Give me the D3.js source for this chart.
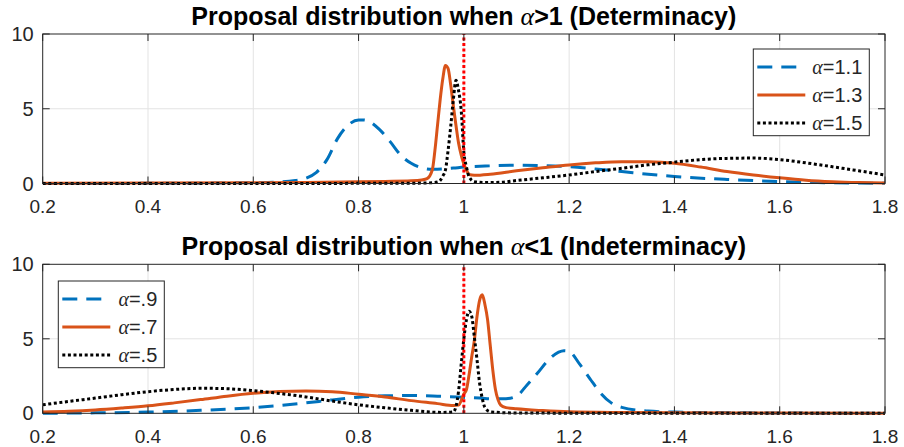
<!DOCTYPE html>
<html lang="en">
<head>
    <meta charset="utf-8" />
    <title>Proposal distribution</title>
    <script src="https://cdnjs.cloudflare.com/ajax/libs/d3/7.4.4/d3.min.js"></script>
    <style>
      body { margin: 0; background: #fff; }
      text { font-family: "Liberation Sans", Arial, Helvetica, sans-serif; }
      .greek { font-family: "Liberation Serif", "Times New Roman", serif; font-style: italic; font-weight: normal; }
    </style>
</head>
<body>
<div id="chart"></div>
<script type="text/javascript">

// ---- data ----
var xTicks = [0.2, 0.4, 0.6, 0.8, 1, 1.2, 1.4, 1.6, 1.8];
var yTicks = [0, 5, 10];

// top panel, alpha > 1
var topBlueX = [0.2, 0.3, 0.4, 0.5, 0.55, 0.6, 0.65, 0.68, 0.7, 0.72, 0.74, 0.76, 0.78, 0.8, 0.81, 0.82, 0.84, 0.86, 0.88, 0.9, 0.92, 0.94, 0.96, 0.98, 1.0, 1.05, 1.1, 1.15, 1.2, 1.25, 1.3, 1.35, 1.4, 1.5, 1.6, 1.7, 1.8];
var topBlueY = [0, 0, 0.01, 0.02, 0.04, 0.06, 0.1, 0.2, 0.35, 0.75, 1.6, 3.0, 3.9, 4.25, 4.25, 4.15, 3.6, 2.8, 1.9, 1.35, 1.05, 0.95, 0.97, 1.03, 1.1, 1.18, 1.22, 1.2, 1.12, 0.97, 0.8, 0.62, 0.47, 0.27, 0.13, 0.05, 0.02];

var topOrangeX = [0.2, 0.4, 0.6, 0.7, 0.8, 0.85, 0.9, 0.92, 0.93, 0.94, 0.945, 0.95, 0.955, 0.96, 0.965, 0.97, 0.975, 0.98, 0.985, 0.99, 0.995, 1.0, 1.005, 1.01, 1.02, 1.05, 1.1, 1.15, 1.2, 1.25, 1.3, 1.35, 1.4, 1.45, 1.5, 1.55, 1.6, 1.65, 1.7, 1.75, 1.8];
var topOrangeY = [0.02, 0.03, 0.05, 0.07, 0.11, 0.14, 0.18, 0.24, 0.32, 0.9, 2.2, 3.9, 5.6, 7.0, 7.9, 7.7, 6.6, 5.2, 3.9, 2.7, 1.9, 1.3, 0.9, 0.6, 0.55, 0.62, 0.85, 1.05, 1.24, 1.38, 1.46, 1.45, 1.35, 1.1, 0.8, 0.57, 0.38, 0.22, 0.12, 0.06, 0.03];

var topBlackX = [0.2, 0.6, 0.8, 0.9, 0.94, 0.95, 0.955, 0.96, 0.965, 0.97, 0.975, 0.98, 0.985, 0.99, 0.995, 1.0, 1.005, 1.01, 1.02, 1.04, 1.07, 1.1, 1.15, 1.2, 1.25, 1.3, 1.35, 1.4, 1.45, 1.5, 1.55, 1.6, 1.65, 1.7, 1.75, 1.8];
var topBlackY = [0, 0, 0.01, 0.02, 0.05, 0.1, 0.2, 0.5, 0.9, 2.2, 3.8, 5.6, 6.9, 6.2, 4.9, 2.1, 1.1, 0.45, 0.12, 0.06, 0.08, 0.2, 0.38, 0.57, 0.8, 1.02, 1.25, 1.43, 1.6, 1.68, 1.7, 1.6, 1.38, 1.12, 0.85, 0.57];

// bottom panel, alpha < 1
var botBlueX = [0.2, 0.3, 0.4, 0.5, 0.6, 0.65, 0.7, 0.75, 0.8, 0.85, 0.9, 0.95, 1.0, 1.03, 1.06, 1.08, 1.1, 1.12, 1.14, 1.16, 1.18, 1.19, 1.2, 1.22, 1.24, 1.26, 1.28, 1.3, 1.35, 1.4, 1.5, 1.6, 1.8];
var botBlueY = [0, 0.03, 0.08, 0.2, 0.38, 0.52, 0.7, 0.9, 1.08, 1.17, 1.2, 1.15, 1.07, 1.02, 0.97, 0.98, 1.15, 1.9, 2.7, 3.55, 4.1, 4.2, 4.15, 3.3, 2.3, 1.35, 0.7, 0.4, 0.15, 0.08, 0.04, 0.02, 0];

var botOrangeX = [0.2, 0.25, 0.3, 0.35, 0.4, 0.45, 0.5, 0.55, 0.6, 0.65, 0.7, 0.75, 0.8, 0.85, 0.9, 0.95, 0.98, 0.99, 1.0, 1.005, 1.01, 1.015, 1.02, 1.025, 1.03, 1.035, 1.04, 1.045, 1.05, 1.055, 1.06, 1.065, 1.07, 1.08, 1.1, 1.15, 1.2, 1.3, 1.4, 1.6, 1.8];
var botOrangeY = [0.08, 0.13, 0.22, 0.35, 0.5, 0.7, 0.92, 1.15, 1.34, 1.46, 1.5, 1.45, 1.28, 1.1, 0.85, 0.65, 0.52, 0.55, 1.3, 1.6, 2.6, 3.8, 4.9, 6.5, 7.6, 7.95, 7.3, 6.3, 4.6, 2.9, 1.6, 0.9, 0.55, 0.38, 0.3, 0.18, 0.1, 0.05, 0.03, 0.02, 0.01];

var botBlackX = [0.2, 0.25, 0.3, 0.35, 0.4, 0.45, 0.5, 0.55, 0.6, 0.65, 0.7, 0.75, 0.8, 0.85, 0.9, 0.93, 0.96, 0.98, 0.985, 0.99, 0.995, 1.0, 1.005, 1.01, 1.015, 1.02, 1.025, 1.03, 1.035, 1.04, 1.05, 1.1, 1.2, 1.8];
var botBlackY = [0.57, 0.8, 1.02, 1.25, 1.45, 1.6, 1.68, 1.65, 1.52, 1.33, 1.1, 0.82, 0.57, 0.37, 0.2, 0.1, 0.06, 0.1, 0.45, 1.5, 3.3, 5.0, 6.3, 6.85, 6.5, 5.1, 3.6, 2.0, 1.0, 0.4, 0.1, 0.02, 0.01, 0];

var topLabels = ["=1.1", "=1.3", "=1.5"];
var botLabels = ["=.9", "=.7", "=.5"];

// ---- drawing ----
var W = 904, H = 447;
var left = 42.7, right = 885;
var axColor = "#262626";

var svg = d3.select("#chart").append("svg")
    .attr("width", W)
    .attr("height", H)
    .style("display", "block");

var x = d3.scaleLinear().domain([0.2, 1.8]).range([left, right]);

var styles = [
    { color: "#0072BD", dash: "15,9" },
    { color: "#D95319", dash: null },
    { color: "#000000", dash: "3,2.6" }
];

function zip(xs, ys) {
    return xs.map(function (v, i) { return [v, ys[i]]; });
}

function panel(top, bottom, titleA, titleB, titleY, series, labels, legend) {
    var y = d3.scaleLinear().domain([0, 10]).range([bottom, top]);
    var g = svg.append("g");

    // grid
    g.append("g").selectAll("line")
        .data(xTicks.slice(1, -1))
        .enter().append("line")
        .attr("x1", function (d) { return x(d); })
        .attr("x2", function (d) { return x(d); })
        .attr("y1", top).attr("y2", bottom)
        .attr("stroke", "#e3e3e3").attr("stroke-width", 1);
    g.append("line")
        .attr("x1", left).attr("x2", right)
        .attr("y1", y(5)).attr("y2", y(5))
        .attr("stroke", "#e3e3e3").attr("stroke-width", 1);

    // curves
    var line = d3.line()
        .x(function (d) { return x(d[0]); })
        .y(function (d) { return y(d[1]); })
        .curve(d3.curveMonotoneX);

    var clipId = "clip" + Math.round(top);
    svg.append("clipPath").attr("id", clipId)
        .append("rect").attr("x", left).attr("y", top - 2)
        .attr("width", right - left).attr("height", bottom - top + 4);

    var curves = g.append("g").attr("clip-path", "url(#" + clipId + ")");
    series.forEach(function (s, i) {
        curves.append("path")
            .attr("d", line(s))
            .attr("fill", "none")
            .attr("stroke", styles[i].color)
            .attr("stroke-width", 3)
            .attr("stroke-dasharray", styles[i].dash)
            .attr("stroke-linejoin", "round");
    });

    // red line at alpha = 1
    curves.append("line")
        .attr("x1", x(1)).attr("x2", x(1))
        .attr("y1", y(0)).attr("y2", y(10))
        .attr("stroke", "#ff0000")
        .attr("stroke-width", 3)
        .attr("stroke-dasharray", "3,2.5");

    // box and ticks
    g.append("rect")
        .attr("x", left).attr("y", top)
        .attr("width", right - left).attr("height", bottom - top)
        .attr("fill", "none").attr("stroke", axColor).attr("stroke-width", 1);

    var tl = 7;
    xTicks.forEach(function (t) {
        g.append("line").attr("x1", x(t)).attr("x2", x(t)).attr("y1", bottom).attr("y2", bottom - tl)
            .attr("stroke", axColor);
        g.append("line").attr("x1", x(t)).attr("x2", x(t)).attr("y1", top).attr("y2", top + tl)
            .attr("stroke", axColor);
        g.append("text")
            .attr("x", x(t)).attr("y", bottom + 29.5)
            .attr("text-anchor", "middle")
            .attr("font-size", "19px")
            .attr("fill", axColor)
            .text(d3.format("")(t));
    });
    yTicks.forEach(function (t) {
        g.append("line").attr("x1", left).attr("x2", left + tl).attr("y1", y(t)).attr("y2", y(t))
            .attr("stroke", axColor);
        g.append("line").attr("x1", right).attr("x2", right - tl).attr("y1", y(t)).attr("y2", y(t))
            .attr("stroke", axColor);
        g.append("text")
            .attr("x", left - 9).attr("y", y(t) + 7)
            .attr("text-anchor", "end")
            .attr("font-size", "20px")
            .attr("fill", axColor)
            .text(t);
    });

    // title
    var title = g.append("text")
        .attr("x", (left + right) / 2).attr("y", titleY)
        .attr("text-anchor", "middle")
        .attr("font-size", "25px")
        .attr("font-weight", "bold")
        .attr("fill", "#000");
    title.append("tspan").text(titleA);
    title.append("tspan").attr("class", "greek").attr("font-size", "26px").text("\u03b1");
    title.append("tspan").text(titleB);

    // legend
    var lg = g.append("g");
    lg.append("rect")
        .attr("x", legend.x).attr("y", legend.y)
        .attr("width", legend.w).attr("height", legend.h)
        .attr("fill", "#fff").attr("stroke", axColor).attr("stroke-width", 1);
    labels.forEach(function (lab, i) {
        var cy = legend.y + 18 + i * 28;
        lg.append("line")
            .attr("x1", legend.x + 4).attr("x2", legend.x + 52)
            .attr("y1", cy).attr("y2", cy)
            .attr("stroke", styles[i].color)
            .attr("stroke-width", 3)
            .attr("stroke-dasharray", styles[i].dash);
        var t = lg.append("text")
            .attr("x", legend.x + legend.w - 7).attr("y", cy + 7)
            .attr("text-anchor", "end")
            .attr("font-size", "20px")
            .attr("fill", axColor);
        t.append("tspan").attr("class", "greek").text("\u03b1");
        t.append("tspan").text(lab);
    });
}

panel(34, 183.5, "Proposal distribution when ", ">1 (Determinacy)", 25,
    [zip(topBlueX, topBlueY), zip(topOrangeX, topOrangeY), zip(topBlackX, topBlackY)],
    topLabels, { x: 753.3, y: 49, w: 116, h: 86.7 });

panel(264.3, 413.3, "Proposal distribution when ", "<1 (Indeterminacy)", 255,
    [zip(botBlueX, botBlueY), zip(botOrangeX, botOrangeY), zip(botBlackX, botBlackY)],
    botLabels, { x: 58.3, y: 281, w: 106, h: 86.7 });

</script>
</body>
</html>
